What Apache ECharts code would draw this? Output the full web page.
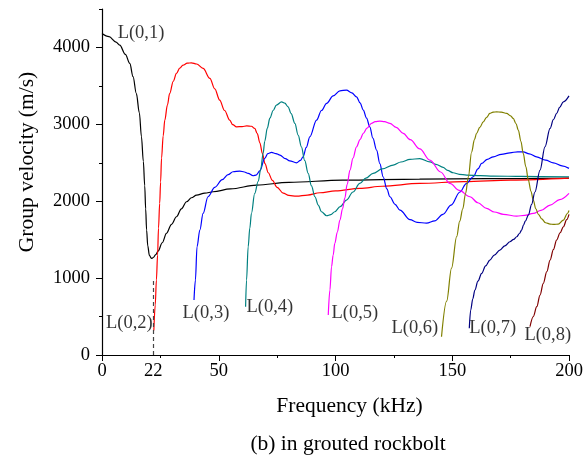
<!DOCTYPE html>
<html>
<head>
<meta charset="utf-8">
<script src="https://cdn.jsdelivr.net/npm/echarts@6/dist/echarts.min.js"></script>
<style>
  html, body { margin: 0; padding: 0; background: #fff; }
  #group-velocity { width: 588px; height: 458px; }
</style>
</head>
<body>
<div id="group-velocity"></div>
<script>
// frequency (kHz), group velocity (m/s)
var modeL01 = [[0,4180],[3,4140],[6,4070],[7.6,4030],[10,3910],[11.9,3792],[13.3,3620],[14.7,3402],[16,3150],[16.9,2838],[17.7,2520],[18.3,2200],[18.7,1900],[19.1,1625],[19.6,1420],[20.3,1295],[21.2,1257],[22,1268],[23,1305],[24,1350],[25.8,1460],[27.6,1582],[29.8,1700],[31.9,1798],[34,1900],[36.2,1993],[38.3,2045],[40.5,2080],[44,2105],[47.6,2123],[55,2160],[66.2,2210],[80,2245],[103,2275],[136,2288],[165,2293],[200,2300]];
var modeL02 = [[22.2,320],[22.8,650],[23.3,975],[23.8,1300],[24.2,1650],[24.7,1972],[25.1,2250],[25.5,2560],[26.2,2850],[26.9,3055],[28,3250],[29,3402],[30.5,3560],[31.9,3662],[33.3,3730],[34.7,3770],[36.5,3795],[38.3,3800],[40.5,3785],[43.3,3727],[46.2,3597],[48.3,3460],[50.4,3315],[52.5,3180],[54.7,3055],[56,2995],[57.6,2968],[60,2970],[62,2980],[64,2975],[65.4,2947],[66.5,2880],[67.6,2760],[68.7,2620],[69.8,2490],[71.2,2370],[73,2270],[75,2180],[77.6,2105],[80,2075],[83.3,2065],[88,2080],[93.3,2110],[100,2135],[110.4,2167],[120,2195],[136,2232],[155,2255],[175,2275],[200,2300]];
var modeL03 = [[39.4,715],[40,975],[40.7,1408],[41.9,1625],[43.3,1842],[45.4,2058],[48.3,2180],[51.5,2280],[54,2345],[56.1,2383],[59,2392],[61,2380],[62.6,2362],[64.7,2331],[66,2340],[67.6,2395],[69.7,2557],[71,2620],[72.6,2635],[74.5,2620],[76.2,2600],[78.5,2555],[80.4,2526],[83.3,2500],[85,2530],[86.1,2578],[87.5,2700],[89,2838],[91.9,3055],[94,3180],[96.2,3272],[99,3370],[101.9,3436],[104.7,3445],[107,3410],[109,3358],[110.5,3280],[111.9,3185],[113.3,3080],[114.7,2968],[116,2820],[117.6,2665],[119,2490],[120.4,2318],[122,2160],[123.3,2058],[125.5,1960],[127.6,1885],[131.9,1760],[135,1725],[139,1715],[142.5,1745],[146,1830],[149.5,1950],[153.3,2120],[156,2230],[159,2318],[161,2420],[162.6,2492],[165,2545],[167.6,2578],[171,2610],[174.7,2630],[178,2643],[180.4,2643],[183,2615],[186.1,2578],[190,2535],[193.3,2500],[197,2460],[200,2427]];
var modeL04 = [[61.5,628],[61.9,975],[62.6,1408],[63.3,1650],[64,1842],[65.4,2102],[66.9,2260],[68,2420],[69,2622],[69.7,2780],[70.8,2950],[71.9,3080],[73.3,3180],[74.7,3250],[76.9,3293],[78.3,3275],[79.7,3228],[81,3140],[82.6,3012],[84,2860],[85.4,2708],[86.8,2530],[88.3,2362],[89.7,2200],[91.2,2058],[92.6,1950],[94,1863],[96.2,1811],[98,1825],[99.7,1863],[102,1930],[104.7,2015],[107.5,2120],[110.4,2232],[113,2300],[116.1,2362],[120,2420],[124.7,2470],[128,2510],[131.9,2544],[136.1,2555],[140.4,2513],[143,2480],[146.1,2440],[148,2400],[150.4,2370],[153,2350],[156.1,2340],[162,2332],[167.6,2327],[180,2322],[200,2318]];
var modeL05 = [[96.9,520],[97.6,845],[98.3,1148],[99,1300],[99.7,1452],[100.8,1600],[101.9,1755],[103,1900],[104,2040],[105,2220],[106.2,2405],[107.5,2560],[109,2708],[110.5,2800],[111.9,2882],[113.5,2950],[115.4,3012],[117,3035],[119,3042],[121,3035],[123.3,3012],[126,2960],[129,2882],[132,2800],[136.1,2680],[140.4,2535],[145,2380],[149,2232],[153,2140],[157.6,2058],[161,1980],[164.7,1907],[168,1860],[171.9,1829],[177.6,1807],[181,1815],[184.7,1842],[188,1880],[191.9,1950],[196,2020],[200,2102]];
var modeL06 = [[145.4,238],[147.6,700],[149.7,1130],[151.9,1540],[153.2,1740],[154.5,1900],[155.7,2100],[156.9,2318],[158.3,2640],[159.5,2800],[160.4,2882],[161.8,2960],[163.3,3033],[164.7,3090],[166.1,3142],[167.5,3158],[169,3163],[171,3158],[173.3,3142],[175,3110],[176.1,3077],[177.3,3010],[178.3,2925],[179.4,2780],[180.4,2622],[181.5,2450],[182.6,2275],[183.7,2130],[184.7,2015],[185.8,1900],[186.9,1830],[188.3,1770],[190,1720],[191.9,1703],[193.5,1698],[195.4,1703],[197.6,1755],[199.3,1840],[200,1880]];
var modeL07 = [[157.3,347],[157.9,585],[158.8,730],[159.7,845],[161,960],[162.6,1062],[164.3,1160],[166.1,1235],[168,1300],[170.4,1365],[172.5,1420],[174.7,1473],[176.3,1505],[177.6,1538],[178.8,1580],[179.7,1625],[180.5,1690],[181.3,1740],[182.6,1820],[184,1960],[185.4,2120],[187.6,2405],[189.7,2708],[191.9,2947],[193.3,3060],[194.7,3142],[196,3220],[197.6,3293],[200,3370]];
var modeL08 = [[183.3,368],[184.7,500],[186.2,628],[187.6,780],[189,932],[190.5,1085],[191.9,1235],[193.3,1370],[194.7,1495],[196.2,1590],[197.6,1668],[199,1760],[200,1830]];

var modeNames = ['L(0,1)', 'L(0,2)', 'L(0,3)', 'L(0,4)', 'L(0,5)', 'L(0,6)', 'L(0,7)', 'L(0,8)'];
var modeColors = ['#000000', '#ff0000', '#0000ff', '#008080', '#ff00ff', '#808000', '#000080', '#800000'];
// where each mode name sits: [freq, velocity, side of the anchor]
var modeLabelAt = [[6.7,4186,'right'],[21.7,416,'left'],[34.5,542,'right'],[61.9,628,'right'],[98.3,542,'right'],[144,347,'left'],[157.3,347,'right'],[180.9,260,'right']];

var xLabelValues = [0, 22, 50, 100, 150, 200];
var xTickValues = [0, 50, 100, 150, 200];
var yLabelValues = [0, 1000, 2000, 3000, 4000];
var cutoffMark = [22, 1000]; // dashed line at 22 kHz

var serif = 'Liberation Serif';
var chart = echarts.init(document.getElementById('group-velocity'));
var modes = [modeL01, modeL02, modeL03, modeL04, modeL05, modeL06, modeL07, modeL08];

var series = modes.map(function (d, i) {
    var s = {
        name: modeNames[i],
        type: 'line',
        data: d,
        showSymbol: false,
        smooth: 0.35,
        smoothMonotone: 'x',
        lineStyle: { color: modeColors[i], width: 1.2 },
        z: 3
    };
    if (i === 0) {
        s.markLine = {
            silent: true,
            symbol: 'none',
            label: { show: false },
            lineStyle: { color: '#444', type: [4, 3], width: 1.2 },
            data: [[{ coord: [cutoffMark[0], 0] }, { coord: [cutoffMark[0], cutoffMark[1]] }]]
        };
    }
    return s;
});

series.push({
    type: 'scatter',
    symbolSize: 0,
    silent: true,
    data: modeLabelAt.map(function (p) {
        return {
            value: [p[0], p[1]],
            label: { position: p[2] }
        };
    }),
    label: {
        show: true,
        distance: 0,
        color: '#000',
        fontFamily: serif,
        fontSize: 18.5,
        formatter: function (p) { return modeNames[p.dataIndex]; }
    },
    z: 5
});

var plainNumber = function (v) { return String(v); };
var nameRich = { t: { fontFamily: serif, fontSize: 21.5, color: '#000' } };

var option = {
    animation: false,
    backgroundColor: '#fff',
    textStyle: { fontFamily: serif, color: '#000' },
    title: {
        text: '(b) in grouted rockbolt',
        left: 343,
        top: 428,
        textAlign: 'center',
        textStyle: { fontFamily: serif, fontSize: 21.5, fontWeight: 'normal', color: '#000' }
    },
    grid: { left: 102, right: 19, top: 9, bottom: 103 },
    xAxis: {
        type: 'value',
        min: 0,
        max: 200,
        interval: 50,
        name: '{t|Frequency (kHz)}',
        nameLocation: 'middle',
        nameGap: 40,
        nameTextStyle: { fontFamily: serif, fontSize: 21.5, color: '#000', padding: [0, 0, 0, 28], rich: nameRich },
        axisLine: { lineStyle: { color: '#000', width: 1.2 } },
        axisTick: { customValues: xTickValues, length: 6, lineStyle: { color: '#000' } },
        minorTick: { show: true, splitNumber: 2, length: 3, lineStyle: { color: '#000' } },
        axisLabel: { customValues: xLabelValues, formatter: plainNumber, margin: 7, fontFamily: serif, fontSize: 18.5, color: '#000' },
        splitLine: { show: false }
    },
    yAxis: [
        {
            type: 'value',
            min: 0,
            max: 4500,
            interval: 500,
            name: '{t|Group velocity (m/s)}',
            nameLocation: 'middle',
            nameGap: 64,
            nameTextStyle: { fontFamily: serif, fontSize: 21.5, color: '#000', padding: [0, 0, 0, 40], rich: nameRich },
            axisLine: { show: true, lineStyle: { color: '#000', width: 1.2 } },
            axisTick: { length: 3, lineStyle: { color: '#000' } },
            axisLabel: { customValues: yLabelValues, formatter: plainNumber, margin: 12, fontFamily: serif, fontSize: 18.5, color: '#000' },
            splitLine: { show: false }
        },
        {
            // longer ticks at the labelled values
            type: 'value',
            min: 0,
            max: 4500,
            position: 'left',
            axisLine: { show: false },
            axisTick: { show: true, customValues: yLabelValues, length: 6, lineStyle: { color: '#000' } },
            axisLabel: { show: false },
            splitLine: { show: false }
        }
    ],
    series: series
};

chart.setOption(option);
</script>
</body>
</html>
